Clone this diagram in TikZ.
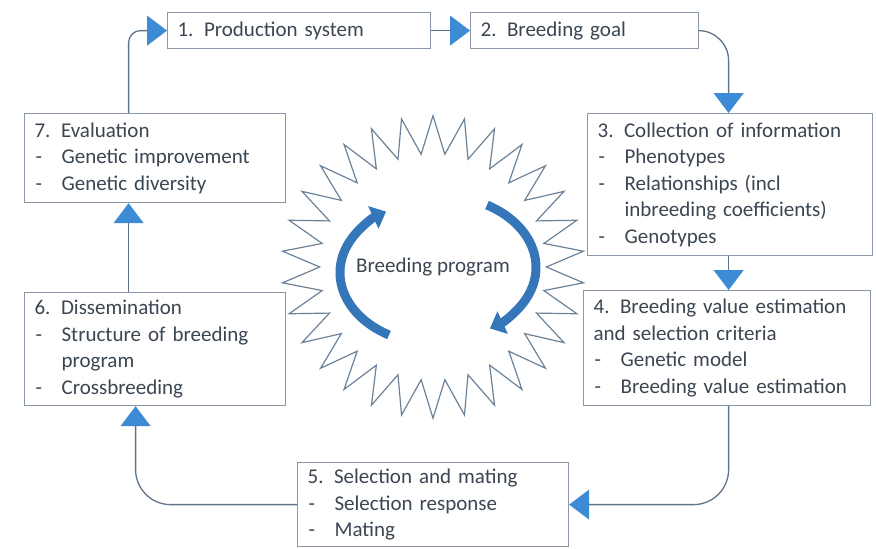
\documentclass[tikz,border=0pt]{standalone}
\usepackage{fontspec}
\setmainfont{Carlito}
\usetikzlibrary{arrows.meta,shapes.geometric}

\definecolor{boxline}{HTML}{8A97A6}
\definecolor{textcol}{HTML}{3B4652}
\definecolor{linecol}{HTML}{5F7389}
\definecolor{arrowcol}{HTML}{3D8BD4}
\definecolor{burstcol}{HTML}{6B8299}
\definecolor{circcol}{HTML}{3576B8}

\newcommand{\itm}{\makebox[27pt][l]{\hspace{1pt}-}}
\newcommand{\cont}{\hspace*{27pt}}

\begin{document}
\begin{tikzpicture}[
  x=1pt,y=-1pt,
  box/.style={draw=boxline, line width=1.2pt, fill=white, anchor=north west, align=left,
    inner xsep=10pt, inner ysep=4pt, text=textcol, font=\fontsize{21}{26.5}\selectfont},
  flow/.style={draw=linecol, line width=1.3pt, rounded corners=22pt,
    -{Triangle[length=20pt,width=30pt,color=arrowcol]}},
  burst/.style={star, star points=30, star point height=38pt, minimum size=302pt,
    draw=burstcol, line width=1.2pt, text=textcol, font=\fontsize{21}{26.5}\selectfont},
  circarrow/.style={draw=circcol, line width=9pt, -{Triangle[length=14pt,width=24pt]}}
]
\useasboundingbox (0,0) rectangle (876,549);

\node[burst] (prog) at (433,267) {Breeding program};
\draw[circarrow] (prog.center) ++(-44,68) arc[start angle=120, end angle=238, x radius=98, y radius=72];
\draw[circarrow] (prog.center) ++(54,-62) arc[start angle=300, end angle=418, x radius=98, y radius=72];

\node[box, text width=243pt, minimum height=36pt] (b1) at (167,12) {1. Production system};
\node[box, text width=208pt, minimum height=36pt] (b2) at (470,12) {2. Breeding goal};
\node[box, text width=265pt, minimum height=142pt] (b3) at (587,113)
  {3. Collection of information\\\itm Phenotypes\\\itm Relationships (incl\\\cont inbreeding coefficients)\\\itm Genotypes};
\node[box, text width=267pt, minimum height=115pt] (b4) at (583,290)
  {4. Breeding value estimation\\and selection criteria\\\itm Genetic model\\\itm Breeding value estimation};
\node[box, text width=251pt, minimum height=84pt] (b5) at (297,462)
  {5. Selection and mating\\\itm Selection response\\\itm Mating};
\node[box, text width=241pt, minimum height=113pt] (b6) at (24,292)
  {6. Dissemination\\\itm Structure of breeding\\\cont program\\\itm Crossbreeding};
\node[box, text width=241pt, minimum height=89pt] (b7) at (24,113)
  {7. Evaluation\\\itm Genetic improvement\\\itm Genetic diversity};

\draw[flow, rounded corners=12pt] ([xshift=-26.5pt]b7.north) |- (b1.west);
\draw[flow] (b1.east) -- (b2.west);
\draw[flow, rounded corners=30pt] (b2.east) -| ([xshift=-1.5pt]b3.north);
\draw[flow] ([xshift=-1.5pt]b3.south) -- ([xshift=-1.5pt]b3.south |- b4.north);
\draw[flow, rounded corners=35pt] ([xshift=1.5pt]b4.south) |- (b5.east);
\draw[flow, rounded corners=35pt] (b5.west) -| ([xshift=-19.5pt]b6.south);
\draw[flow] ([xshift=-26.5pt]b6.north) -- ([xshift=-26.5pt]b7.south);
\end{tikzpicture}
\end{document}
